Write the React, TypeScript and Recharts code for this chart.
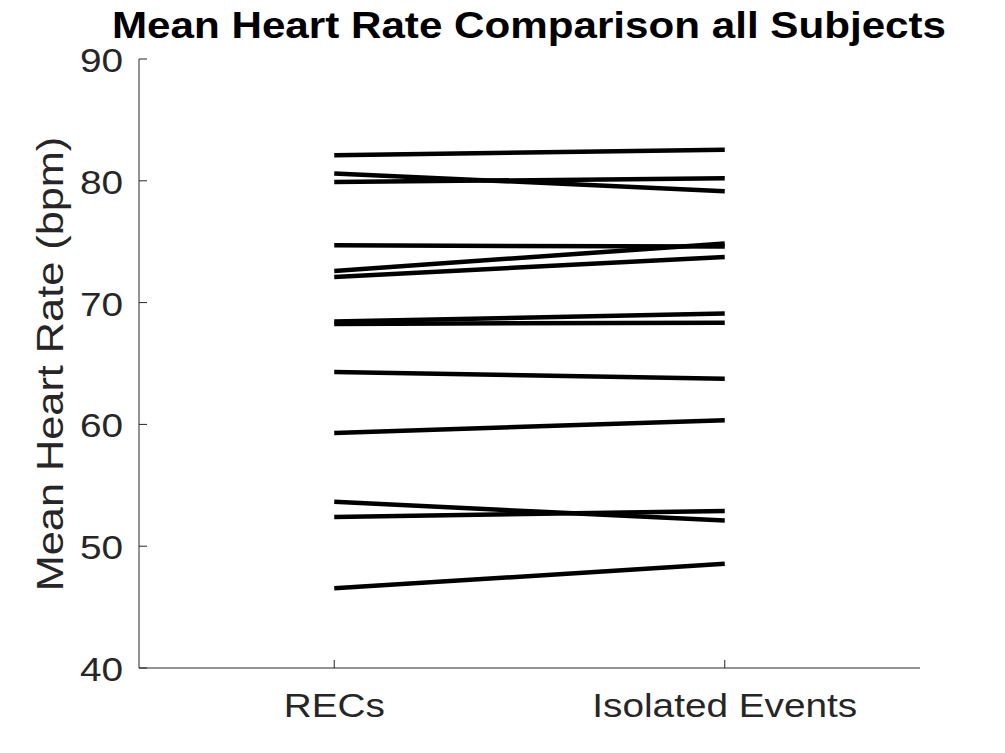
import React from 'react';
import { LineChart, Line, XAxis, YAxis } from 'recharts';

// one value per subject
const recs = [82.1, 80.6, 79.9, 74.7, 72.6, 72.1, 68.45, 68.25, 64.3, 59.3, 53.65, 52.4, 46.55];
const isolated = [82.55, 79.15, 80.2, 74.6, 74.85, 73.75, 69.1, 68.35, 63.75, 60.35, 52.1, 52.9, 48.55];

const categories = ['RECs', 'Isolated Events'];
const yTicks = [40, 50, 60, 70, 80, 90];

const TEXT = '#262626';
const FONT = '"Liberation Sans", Arial, Helvetica, sans-serif';
const STRETCH = 1.14; // figure text is wider than plain Arial

const chartData = categories.map((c, ci) => {
  const row: Record<string, number | string> = { x: ci + 1, name: c };
  const src = ci === 0 ? recs : isolated;
  src.forEach((v, i) => {
    row[`s${i}`] = v;
  });
  return row;
});

const YTick = (props: any) => {
  const { x, y, payload } = props;
  return (
    <text
      transform={`translate(${x},${y + 13}) scale(${STRETCH},1)`}
      textAnchor="end"
      fontFamily={FONT}
      fontSize={34}
      fill={TEXT}
    >
      {payload.value}
    </text>
  );
};

const XTick = (props: any) => {
  const { x, y, payload } = props;
  const label = categories[Math.round(payload.value) - 1] ?? '';
  return (
    <text
      transform={`translate(${x},${y + 57}) scale(${STRETCH},1)`}
      textAnchor="middle"
      fontFamily={FONT}
      fontSize={34}
      fill={TEXT}
    >
      {label}
    </text>
  );
};

export default function App() {
  return (
    <div style={{ position: 'absolute', left: 0, top: 0, width: 1005, height: 753, background: '#fff' }}>
      <LineChart
        width={1005}
        height={753}
        data={chartData}
        margin={{ top: 59, right: 85, bottom: 0, left: 79 }}
      >
        <XAxis
          dataKey="x"
          type="number"
          domain={[0.5, 2.5]}
          ticks={[1, 2]}
          allowDataOverflow
          height={85}
          stroke={TEXT}
          tickSize={-8}
          tickMargin={0}
          tick={<XTick />}
        />
        <YAxis
          type="number"
          domain={[40, 90]}
          ticks={yTicks}
          allowDataOverflow
          width={60}
          stroke={TEXT}
          tickSize={-8}
          tickMargin={24}
          tick={<YTick />}
        />
        {recs.map((_, i) => (
          <Line
            key={i}
            type="linear"
            dataKey={`s${i}`}
            stroke="#000"
            strokeWidth={4.5}
            dot={false}
            activeDot={false}
            isAnimationActive={false}
          />
        ))}
      </LineChart>
      <svg
        width={1005}
        height={753}
        style={{ position: 'absolute', left: 0, top: 0, pointerEvents: 'none' }}
      >
        <text
          transform={`translate(529,38) scale(${STRETCH},1)`}
          textAnchor="middle"
          fontFamily={FONT}
          fontWeight="bold"
          fontSize={37}
          fill="#000"
        >
          Mean Heart Rate Comparison all Subjects
        </text>
        <text
          transform="translate(63,364) rotate(-90) scale(1.17,1)"
          textAnchor="middle"
          fontFamily={FONT}
          fontSize={37}
          fill={TEXT}
        >
          Mean Heart Rate (bpm)
        </text>
      </svg>
    </div>
  );
}
